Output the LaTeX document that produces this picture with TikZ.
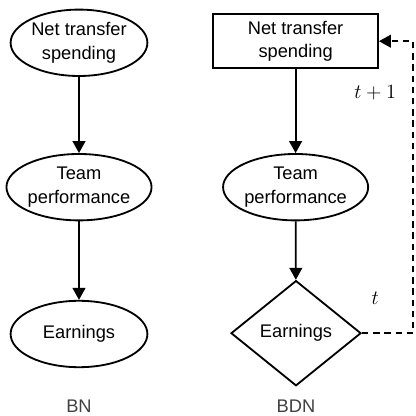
\documentclass[tikz,border=0pt]{standalone}
\usepackage[no-math]{fontspec}
\setmainfont{Liberation Sans}
\usetikzlibrary{arrows.meta,shapes.geometric}
\begin{document}
\begin{tikzpicture}[every node/.style={draw, line width=1.3pt, align=center, font=\fontsize{13}{16.5}\selectfont},
    ell/.style={ellipse, minimum width=3.42cm, minimum height=1.66cm, inner sep=0pt},
    freccia/.style={-{Triangle[width=0.32cm,length=0.3cm]}, line width=1.3pt},
    etichetta/.style={draw=none, text=black!75},
    tempo/.style={draw=none, font=\fontsize{14}{16}\selectfont}]
      \useasboundingbox (0,0) rectangle (10.4,10.4);

      % Rete BN
      \node (N1) at (1.975,9.33) [ell] {Net transfer\\spending};
      \node (T1) at (1.975,5.72) [ell] {Team\\performance};
      \node (E1) at (1.975,2.05) [ell] {Earnings};
      \node (BN) at (1.975,0.25) [etichetta] {BN};

      % Rete BDN
      \node (N2) at (7.39,9.37) [rectangle, minimum width=4.12cm, minimum height=1.35cm, inner sep=0pt] {Net transfer\\spending};
      \node (T2) at (7.39,5.72) [ell, minimum width=3.3cm] {Team\\performance};
      \node (E2) at (7.4,2.07) [diamond, aspect=1.24, minimum width=3.25cm, minimum height=2.63cm, inner sep=0pt] {Earnings};
      \node (BDN) at (7.4,0.25) [etichetta] {BDN};

      % Etichette temporali
      \node (t1) at (9.38,8.07) [tempo] {$t+1$};
      \node (t0) at (9.38,2.95) [tempo] {$t$};
      \coordinate (R) at (10.33,0);

      % Collegamenti
      \draw[freccia] (N1) -- (T1);
      \draw[freccia] (T1) -- (E1);
      \draw[freccia] (N2) -- (T2);
      \draw[freccia] (T2) -- (E2);
      \draw[freccia, dash pattern=on 0.16cm off 0.12cm] (E2.east) -- (E2.east -| R) |- (N2.east);
    \end{tikzpicture}
\end{document}
